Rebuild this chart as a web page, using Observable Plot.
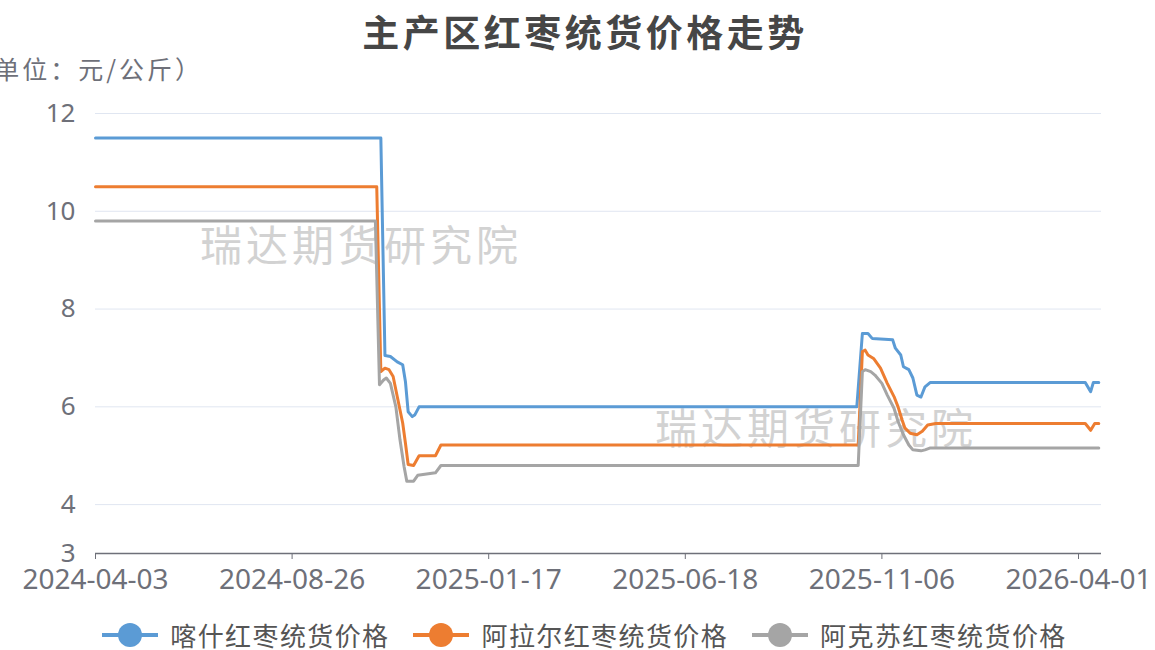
<!DOCTYPE html>
<html>
<head>
<meta charset="utf-8">
<script src="https://cdn.jsdelivr.net/npm/d3@7"></script>
<script src="https://cdn.jsdelivr.net/npm/@observablehq/plot@0.6"></script>
<style>
  html, body { margin: 0; padding: 0; background: #fff; }
  #wrap { position: relative; width: 1155px; height: 650px; overflow: hidden; background: #fff;
          font-family: "Noto Sans CJK SC", "Noto Sans", sans-serif; }
  .wm { position: absolute; font-size: 42px; letter-spacing: 4px; color: #d2d2d2; white-space: nowrap; line-height: 1; }
  #chart { position: absolute; left: 0; top: 0; }
  #title { position: absolute; top: 9px; left: 585px; transform: translateX(-50%); font-size: 37px; font-weight: bold;
           letter-spacing: 3.5px; color: #464646; white-space: nowrap; line-height: 1.2; }
  #unit { position: absolute; top: 53px; right: 952px; font-size: 25px; letter-spacing: 3px; color: #6E7079; white-space: nowrap; line-height: 1.2; }
  #legend { position: absolute; top: 621px; left: 0; width: 1155px; box-sizing: border-box; padding-left: 14px; display: flex; justify-content: center; align-items: center; }
  .item { display: flex; align-items: center; margin: 0 12px; }
  .item span { font-size: 26px; letter-spacing: 1.4px; color: #555; margin-left: 12px; line-height: 1.05; white-space: nowrap; }
</style>
</head>
<body>
<div id="wrap">
  <div class="wm" style="left:200px;top:222px">瑞达期货研究院</div>
  <div class="wm" style="left:655px;top:405px">瑞达期货研究院</div>
  <div id="chart"></div>
  <div id="title">主产区红枣统货价格走势</div>
  <div id="unit">（单位：元/公斤）</div>
  <div id="legend"></div>
</div>
<script>
// ---- data ----
const seriesNames = ["喀什红枣统货价格", "阿拉尔红枣统货价格", "阿克苏红枣统货价格"];
const seriesColors = ["#5B9BD5", "#ED7D31", "#A5A5A5"];

const kashiDates = ["2024-04-03","2024-10-30","2024-11-02","2024-11-06","2024-11-11","2024-11-15","2024-11-17","2024-11-19","2024-11-22","2024-11-24","2024-11-27",
  "2025-10-19","2025-10-23","2025-10-27","2025-10-30","2025-11-14","2025-11-16","2025-11-20","2025-11-22","2025-11-26","2025-11-29","2025-12-02","2025-12-05","2025-12-08","2025-12-12",
  "2026-04-06","2026-04-10","2026-04-12","2026-04-16"];
const kashiValues = [11.5,11.5,7.05,7.03,6.92,6.86,6.52,5.9,5.8,5.84,6.0,
  6.0,7.5,7.5,7.4,7.37,7.2,7.06,6.82,6.76,6.59,6.24,6.2,6.41,6.5,
  6.5,6.31,6.5,6.5];

const alaerDates = ["2024-04-03","2024-10-27","2024-10-30","2024-11-02","2024-11-05","2024-11-08","2024-11-11","2024-11-15","2024-11-17","2024-11-19","2024-11-23","2024-11-27","2024-12-09","2024-12-13",
  "2025-10-20","2025-10-23","2025-10-25","2025-10-27","2025-10-31","2025-11-05","2025-11-10","2025-11-15","2025-11-18","2025-11-21","2025-11-23","2025-11-27","2025-12-02","2025-12-06","2025-12-10","2025-12-16",
  "2026-04-06","2026-04-10","2026-04-13","2026-04-16"];
const alaerValues = [10.5,10.5,6.72,6.79,6.76,6.62,6.21,5.67,5.26,4.82,4.8,5.0,5.0,5.22,
  5.22,7.13,7.16,7.06,6.99,6.79,6.48,6.21,6.0,5.73,5.57,5.46,5.43,5.5,5.63,5.66,
  5.66,5.52,5.66,5.66];

const akesuDates = ["2024-04-03","2024-10-26","2024-10-29","2024-11-01","2024-11-03","2024-11-06","2024-11-10","2024-11-13","2024-11-16","2024-11-18","2024-11-23","2024-11-26","2024-12-09","2024-12-13",
  "2025-10-20","2025-10-23","2025-10-25","2025-10-29","2025-11-01","2025-11-06","2025-11-10","2025-11-15","2025-11-18","2025-11-22","2025-11-26","2025-11-29","2025-12-05","2025-12-08","2025-12-12",
  "2026-04-16"];
const akesuValues = [9.8,9.8,6.45,6.55,6.59,6.48,6.0,5.33,4.78,4.48,4.48,4.6,4.65,4.8,
  4.8,6.72,6.76,6.72,6.65,6.48,6.24,5.97,5.7,5.43,5.22,5.12,5.1,5.12,5.16,
  5.16];

const xTickLabels = ["2024-04-03","2024-08-26","2025-01-17","2025-06-18","2025-11-06","2026-04-01"];
const xAxisEnd = "2026-04-18";
const yTicks = [3, 4, 6, 8, 10, 12];
const yGrid = [4, 6, 8, 10, 12];

// ---- build ----
const parse = d3.utcParse("%Y-%m-%d");
const rows = [];
[[kashiDates, kashiValues], [alaerDates, alaerValues], [akesuDates, akesuValues]].forEach(([ds, vs], i) => {
  ds.forEach((d, j) => rows.push({series: seriesNames[i], date: parse(d), value: vs[j]}));
});

const W = 1155, H = 600, mL = 95, mR = 54, mT = 113, mB = 47;
const tickDates = xTickLabels.map(parse);
const step = (1078 - mL) / (tickDates.length - 1);
const xDomain = [...tickDates, parse(xAxisEnd)];
const xRange = [...tickDates.map((_, i) => mL + i * step), W - mR];

const chart = Plot.plot({
  width: W, height: H,
  marginLeft: mL, marginRight: mR, marginTop: mT, marginBottom: mB,
  style: {background: "transparent", fontFamily: "'Noto Sans', 'Noto Sans CJK SC', sans-serif", color: "#6E7079", overflow: "visible"},
  x: {type: "utc", domain: xDomain, range: xRange},
  y: {domain: [3, 12]},
  color: {domain: seriesNames, range: seriesColors},
  marks: [
    Plot.gridY(yGrid, {stroke: "#E0E6F1", strokeOpacity: 1, strokeWidth: 1}),
    Plot.ruleY([3], {stroke: "#6E7079", strokeWidth: 1.5}),
    Plot.line(rows, {x: "date", y: "value", z: "series", stroke: "series", strokeWidth: 3, strokeLinejoin: "round", strokeLinecap: "round"}),
    Plot.axisX(tickDates, {tickSize: 6, tickPadding: 10, tickFormat: d3.utcFormat("%Y-%m-%d"), fontSize: 28, stroke: "#6E7079", fill: "#6E7079", label: null}),
    Plot.axisY(yTicks, {tickSize: 0, tickPadding: 20, fontSize: 26, fill: "#6E7079", label: null})
  ]
});
document.getElementById("chart").appendChild(chart);

// legend
const legend = document.getElementById("legend");
seriesNames.forEach((name, i) => {
  const item = document.createElement("div");
  item.className = "item";
  item.innerHTML = `<svg width="56" height="28"><line x1="0" y1="14" x2="56" y2="14" stroke="${seriesColors[i]}" stroke-width="4"/><circle cx="28" cy="14" r="12" fill="${seriesColors[i]}"/></svg><span>${name}</span>`;
  legend.appendChild(item);
});
</script>
</body>
</html>
